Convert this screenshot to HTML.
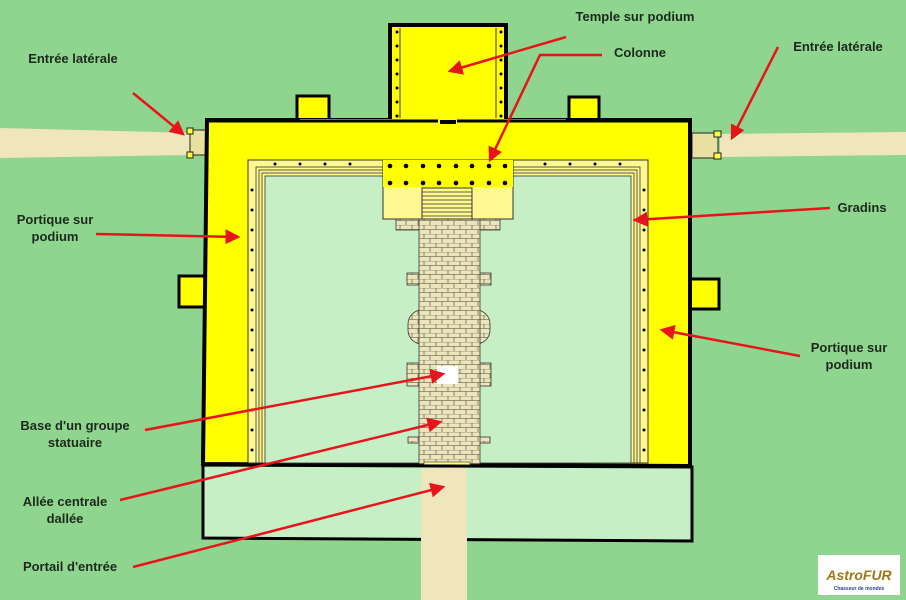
<!DOCTYPE html>
<html><head><meta charset="utf-8"><style>
html,body{margin:0;padding:0;background:#8fd48f;}
svg{display:block}
text{font-family:"Liberation Sans",sans-serif;font-weight:bold;font-size:13px;fill:#1c2a1c}
</style></head><body>
<svg width="906" height="600" viewBox="0 0 906 600" xmlns="http://www.w3.org/2000/svg">
<defs>
<pattern id="pav" width="12" height="9" patternUnits="userSpaceOnUse">
<rect width="12" height="9" fill="#ece4bc"/>
<path d="M0 0H12M0 4.5H12M4 0V4.5M10 4.5V9" stroke="#4a4a30" stroke-width="0.6" fill="none"/>
</pattern>
<marker id="ah" markerWidth="6" markerHeight="6" refX="5" refY="3" orient="auto" markerUnits="strokeWidth"><path d="M0,0 L6,3 L0,6 z" fill="#e8141c"/></marker>
</defs>
<rect width="906" height="600" fill="#8fd48f"/>
<path d="M0 128 L195 133 L195 155 L0 158 Z" fill="#efe7bb"/>
<path d="M720 134 L906 132 L906 155 L720 157 Z" fill="#efe7bb"/>
<rect x="421" y="462" width="46" height="138" fill="#efe7bb"/>
<rect x="190" y="130" width="18" height="25" fill="#e8e0a0" stroke="#222" stroke-width="1"/>
<rect x="187" y="128" width="6" height="6" fill="#ffff40" stroke="#222"/>
<rect x="187" y="152" width="6" height="6" fill="#ffff40" stroke="#222"/>
<rect x="692" y="133" width="26" height="25" fill="#e8e0a0" stroke="#222"/>
<rect x="714" y="131" width="7" height="6" fill="#ffff40" stroke="#222"/>
<rect x="714" y="153" width="7" height="6" fill="#ffff40" stroke="#222"/>
<rect x="297" y="96" width="32" height="26" fill="#ffff00" stroke="#000" stroke-width="3"/>
<rect x="569" y="97" width="30" height="25" fill="#ffff00" stroke="#000" stroke-width="3"/>
<rect x="179" y="276" width="28" height="31" fill="#ffff00" stroke="#000" stroke-width="3"/>
<rect x="689" y="279" width="30" height="30" fill="#ffff00" stroke="#000" stroke-width="3"/>
<path d="M207 120 L690 120 L690 466 L203 464 Z" fill="#ffff00" stroke="#000" stroke-width="4"/>
<rect x="390" y="25" width="116" height="97" fill="#ffff00" stroke="#000" stroke-width="4"/>
<line x1="400" y1="28" x2="400" y2="118" stroke="#333" stroke-width="1"/>
<line x1="496" y1="28" x2="496" y2="118" stroke="#333" stroke-width="1"/>
<g fill="#000">
<circle cx="397" cy="32" r="1.5"/><circle cx="397" cy="46" r="1.5"/><circle cx="397" cy="60" r="1.5"/><circle cx="397" cy="74" r="1.5"/><circle cx="397" cy="88" r="1.5"/><circle cx="397" cy="102" r="1.5"/><circle cx="397" cy="116" r="1.5"/>
<circle cx="501" cy="32" r="1.5"/><circle cx="501" cy="46" r="1.5"/><circle cx="501" cy="60" r="1.5"/><circle cx="501" cy="74" r="1.5"/><circle cx="501" cy="88" r="1.5"/><circle cx="501" cy="102" r="1.5"/><circle cx="501" cy="116" r="1.5"/>
</g>
<rect x="300" y="119" width="140" height="6" fill="#ffff00"/>
<rect x="456" y="119" width="110" height="6" fill="#ffff00"/>
<path d="M207 121 H438 M457 121 H690" stroke="#000" stroke-width="3"/>
<rect x="248" y="160" width="400" height="303" fill="#fff890" stroke="#333" stroke-width="1"/>
<rect x="256" y="167" width="384" height="296" fill="none" stroke="#333" stroke-width="0.8"/>
<rect x="259" y="170" width="378" height="293" fill="none" stroke="#333" stroke-width="0.8"/>
<rect x="262" y="173" width="372" height="290" fill="none" stroke="#333" stroke-width="0.8"/>
<rect x="265" y="176" width="366" height="287" fill="#c6efc6" stroke="#333" stroke-width="0.8"/>
<g fill="#000">
<circle cx="252" cy="190" r="1.5"/><circle cx="252" cy="210" r="1.5"/><circle cx="252" cy="230" r="1.5"/><circle cx="252" cy="250" r="1.5"/><circle cx="252" cy="270" r="1.5"/><circle cx="252" cy="290" r="1.5"/><circle cx="252" cy="310" r="1.5"/><circle cx="252" cy="330" r="1.5"/><circle cx="252" cy="350" r="1.5"/><circle cx="252" cy="370" r="1.5"/><circle cx="252" cy="390" r="1.5"/><circle cx="252" cy="410" r="1.5"/><circle cx="252" cy="430" r="1.5"/><circle cx="252" cy="450" r="1.5"/>
<circle cx="644" cy="190" r="1.5"/><circle cx="644" cy="210" r="1.5"/><circle cx="644" cy="230" r="1.5"/><circle cx="644" cy="250" r="1.5"/><circle cx="644" cy="270" r="1.5"/><circle cx="644" cy="290" r="1.5"/><circle cx="644" cy="310" r="1.5"/><circle cx="644" cy="330" r="1.5"/><circle cx="644" cy="350" r="1.5"/><circle cx="644" cy="370" r="1.5"/><circle cx="644" cy="390" r="1.5"/><circle cx="644" cy="410" r="1.5"/><circle cx="644" cy="430" r="1.5"/><circle cx="644" cy="450" r="1.5"/>
<circle cx="275" cy="164" r="1.5"/><circle cx="300" cy="164" r="1.5"/><circle cx="325" cy="164" r="1.5"/><circle cx="350" cy="164" r="1.5"/><circle cx="545" cy="164" r="1.5"/><circle cx="570" cy="164" r="1.5"/><circle cx="595" cy="164" r="1.5"/><circle cx="620" cy="164" r="1.5"/>
</g>
<g fill="url(#pav)" stroke="#333" stroke-width="0.8">
<rect x="396" y="218" width="104" height="12"/>
<rect x="407" y="273" width="84" height="12"/>
<rect x="408" y="310" width="82" height="34" rx="14"/>
<rect x="407" y="363" width="84" height="23"/>
<rect x="408" y="437" width="82" height="6"/>
<rect x="419" y="218" width="61" height="246"/>
</g>
<rect x="437" y="366" width="21" height="18" fill="#fff"/>
<rect x="424" y="462" width="46" height="5" fill="#ffff80" stroke="#333" stroke-width="0.6"/>
<rect x="383" y="160" width="130" height="59" fill="#fff890" stroke="#333" stroke-width="1"/>
<rect x="383" y="160" width="130" height="27" fill="#ffff00"/>
<rect x="422" y="188" width="50" height="31" fill="#fff890" stroke="#333" stroke-width="1"/>
<path d="M422 192H472M422 196H472M422 200H472M422 204H472M422 208H472M422 212H472M422 216H472" stroke="#333" stroke-width="0.8"/>
<g fill="#000">
<circle cx="390" cy="166" r="2.3"/><circle cx="406" cy="166" r="2.3"/><circle cx="423" cy="166" r="2.3"/><circle cx="439" cy="166" r="2.3"/><circle cx="456" cy="166" r="2.3"/><circle cx="472" cy="166" r="2.3"/><circle cx="489" cy="166" r="2.3"/><circle cx="505" cy="166" r="2.3"/>
<circle cx="390" cy="183" r="2.3"/><circle cx="406" cy="183" r="2.3"/><circle cx="423" cy="183" r="2.3"/><circle cx="439" cy="183" r="2.3"/><circle cx="456" cy="183" r="2.3"/><circle cx="472" cy="183" r="2.3"/><circle cx="489" cy="183" r="2.3"/><circle cx="505" cy="183" r="2.3"/>
</g>
<path d="M203 465 L692 467 L692 541 L203 538 Z" fill="#c6efc6" stroke="#000" stroke-width="3"/>
<rect x="421" y="468" width="46" height="72" fill="#efe7bb"/>
<rect x="421" y="539" width="46" height="61" fill="#efe7bb"/>
<g stroke="#e8141c" stroke-width="2.5" fill="none" marker-end="url(#ah)">
<line x1="133" y1="93" x2="183" y2="134"/>
<line x1="778" y1="47" x2="732" y2="138"/>
<line x1="566" y1="37" x2="450" y2="71"/>
<line x1="96" y1="234" x2="238" y2="237"/>
<line x1="830" y1="208" x2="635" y2="220"/>
<line x1="800" y1="356" x2="662" y2="330"/>
<line x1="145" y1="430" x2="443" y2="374"/>
<line x1="120" y1="500" x2="440" y2="422"/>
<line x1="133" y1="567" x2="443" y2="487"/>
</g>
<polyline points="602,55 540,55 490,160" stroke="#e8141c" stroke-width="2.5" fill="none" marker-end="url(#ah)"/>
<text x="635" y="21" text-anchor="middle">Temple sur podium</text>
<text x="640" y="57" text-anchor="middle">Colonne</text>
<text x="73" y="63" text-anchor="middle">Entrée latérale</text>
<text x="838" y="51" text-anchor="middle">Entrée latérale</text>
<text x="55" y="224" text-anchor="middle">Portique sur</text>
<text x="55" y="241" text-anchor="middle">podium</text>
<text x="862" y="212" text-anchor="middle">Gradins</text>
<text x="849" y="352" text-anchor="middle">Portique sur</text>
<text x="849" y="369" text-anchor="middle">podium</text>
<text x="75" y="430" text-anchor="middle">Base d'un groupe</text>
<text x="75" y="447" text-anchor="middle">statuaire</text>
<text x="65" y="506" text-anchor="middle">Allée centrale</text>
<text x="65" y="523" text-anchor="middle">dallée</text>
<text x="70" y="571" text-anchor="middle">Portail d'entrée</text>
<rect x="818" y="555" width="82" height="40" fill="#fff"/>
<text x="859" y="580" text-anchor="middle" style="font-size:14px;fill:#a07818;font-style:italic">AstroFUR</text>
<text x="859" y="590" text-anchor="middle" style="font-size:5px;fill:#3040a0">Chasseur de mondes</text>
</svg>
</body></html>
